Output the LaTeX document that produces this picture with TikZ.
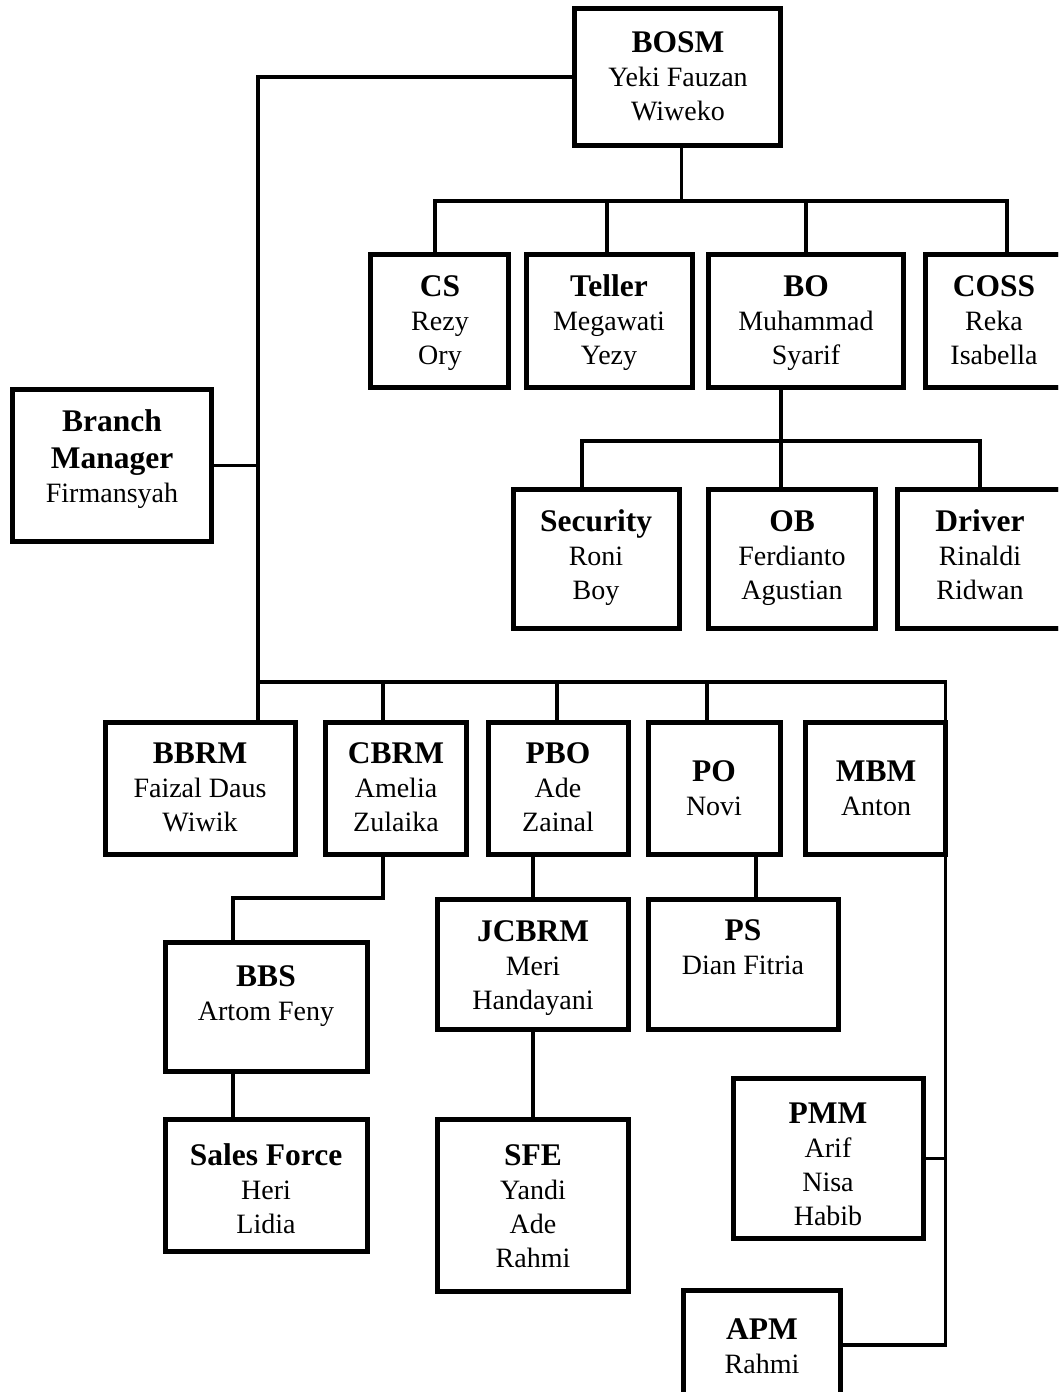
\documentclass[tikz,border=0pt]{standalone}
\usepackage{fontspec}
\setmainfont{Liberation Serif}
\newcommand\orgtitle[1]{{\fontsize{31.5}{34}\selectfont\bfseries #1}}
\begin{document}
\begin{tikzpicture}[x=1pt,y=-1pt,
  orgbox/.style={draw, fill=white, line width=5pt, inner sep=0pt, outer sep=0pt},
  txt/.style={align=center, font=\fontsize{28}{34}\selectfont, inner sep=0pt, yshift=-3pt},
  conn/.style={line width=3.5pt}]
\clip (0,0) rectangle (1058,1392);
\fill[white] (0,0) rectangle (1058,1392);

% boxes (placed first to get anchors)
\path
  node[orgbox, minimum width=206, minimum height=137] (bosm) at (677.5,77) {}
  node[orgbox, minimum width=138, minimum height=133] (cs) at (439.5,321) {}
  node[orgbox, minimum width=166, minimum height=133] (teller) at (609.5,321) {}
  node[orgbox, minimum width=195, minimum height=133] (bo) at (806,321) {}
  node[orgbox, minimum width=147, minimum height=133] (coss) at (999,321) {}
  node[orgbox, minimum width=199, minimum height=152] (bm) at (112,465.5) {}
  node[orgbox, minimum width=166, minimum height=139] (security) at (596.5,559) {}
  node[orgbox, minimum width=167, minimum height=139] (ob) at (792,559) {}
  node[orgbox, minimum width=175, minimum height=139] (driver) at (985,559) {}
  node[orgbox, minimum width=190, minimum height=132] (bbrm) at (200.5,788.5) {}
  node[orgbox, minimum width=141, minimum height=132] (cbrm) at (396,788.5) {}
  node[orgbox, minimum width=140, minimum height=132] (pbo) at (558.5,788.5) {}
  node[orgbox, minimum width=132, minimum height=132] (po) at (714.5,788.5) {}
  node[orgbox, minimum width=140, minimum height=132] (mbm) at (875.5,788.5) {}
  node[orgbox, minimum width=202, minimum height=129] (bbs) at (266.5,1007) {}
  node[orgbox, minimum width=191, minimum height=130] (jcbrm) at (533,964.5) {}
  node[orgbox, minimum width=190, minimum height=130] (ps) at (743.5,964.5) {}
  node[orgbox, minimum width=202, minimum height=132] (sf) at (266.5,1185.5) {}
  node[orgbox, minimum width=191, minimum height=172] (sfe) at (533,1205.5) {}
  node[orgbox, minimum width=190, minimum height=160] (pmm) at (828.5,1158.5) {}
  node[orgbox, minimum width=157, minimum height=127] (apm) at (762,1354) {};

% connection points
\coordinate (bbrmin) at ([xshift=57.5]bbrm.north);
\path (bbrmin) ++(0,-40.5) coordinate (trunk);
\coordinate (rt) at (mbm.east |- trunk);
\coordinate (apmin) at ([yshift=9pt]apm.east);
\coordinate (cbrmin) at ([xshift=-13]cbrm.north);
\coordinate (pboin) at ([xshift=-1.5]pbo.north);
\coordinate (poin) at ([xshift=-7.5]po.north);
\coordinate (bosmout) at ([xshift=4]bosm.south);
\path (bosmout) ++(0,55.5) coordinate (tb);
\coordinate (csin) at ([xshift=-4.5]cs.north);
\coordinate (tellerin) at ([xshift=-2.5]teller.north);
\coordinate (cossin) at ([xshift=8]coss.north);
\coordinate (boout) at ([xshift=-25]bo.south);
\path (boout) ++(0,53.5) coordinate (bb);
\coordinate (secin) at ([xshift=-14.5]security.north);
\coordinate (obin) at ([xshift=-11]ob.north);
\coordinate (drvin) at ([xshift=-5]driver.north);
\coordinate (cbrmout) at ([xshift=-13]cbrm.south);
\coordinate (bbsin) at ([xshift=-33.5]bbs.north);
\coordinate (bbsout) at ([xshift=-33.5]bbs.south);
\coordinate (sfin) at ([xshift=-33.5]sf.north);
\coordinate (psin) at ([xshift=12.5]ps.north);

% connectors
\draw[conn] (bosm.west) -| (trunk) -- (bbrmin);
\draw[conn] (bm.east) -- (bm.east -| trunk);
\draw[conn] (trunk) -- (rt) |- (apmin);
\draw[conn] (pmm.east) -- (pmm.east -| rt);
\draw[conn] (cbrmin) -- (cbrmin |- trunk);
\draw[conn] (pboin) -- (pboin |- trunk);
\draw[conn] (poin) -- (poin |- trunk);
\draw[conn] (bosmout) -- (tb);
\draw[conn] (csin) |- (cossin |- tb) -- (cossin);
\draw[conn] (tellerin) -- (tellerin |- tb);
\draw[conn] (bo.north) -- (bo.north |- tb);
\draw[conn] (boout) -- (obin);
\draw[conn] (secin) |- (drvin |- bb) -- (drvin);
\draw[conn] (cbrmout) -- ++(0,43.5) -| (bbsin);
\draw[conn] (bbsout) -- (sfin);
\draw[conn] (jcbrm.north) -- (jcbrm.north |- pbo.south);
\draw[conn] (psin) -- (psin |- po.south);
\draw[conn] (jcbrm.south) -- (sfe.north);

% boxes drawn on top
\foreach \b in {bosm,cs,teller,bo,coss,bm,security,ob,driver,bbrm,cbrm,pbo,po,mbm,bbs,jcbrm,ps,sf,sfe,pmm,apm}{
  \draw[line width=5pt, fill=white] (\b.north west) rectangle (\b.south east);
}
\draw[conn] (rt) -- (rt |- mbm.south);

% texts
\node[txt] (bosmt) at (678,76.5) {\strut\orgtitle{BOSM}\\Yeki Fauzan\\Wiweko\strut};
\node[txt] (cst) at (440,321) {\strut\orgtitle{CS}\\Rezy\\Ory\strut};
\node[txt] (tellert) at (609,321) {\strut\orgtitle{Teller}\\Megawati\\Yezy\strut};
\node[txt] (bot) at (806,321) {\strut\orgtitle{BO}\\Muhammad\\Syarif\strut};
\node[txt] (cosst) at (994,321) {\strut\orgtitle{COSS}\\Reka\\Isabella\strut};
\node[txt] (bmt) at (112,457) {\strut\orgtitle{Branch}\\[3pt]\orgtitle{Manager}\\Firmansyah\strut};
\node[txt] (securityt) at (596,556) {\strut\orgtitle{Security}\\Roni\\Boy\strut};
\node[txt] (obt) at (792,556) {\strut\orgtitle{OB}\\Ferdianto\\Agustian\strut};
\node[txt] (drivert) at (980,556) {\strut\orgtitle{Driver}\\Rinaldi\\Ridwan\strut};
\node[txt] (bbrmt) at (200,788) {\strut\orgtitle{BBRM}\\Faizal Daus\\Wiwik\strut};
\node[txt] (cbrmt) at (396,788) {\strut\orgtitle{CBRM}\\Amelia\\Zulaika\strut};
\node[txt] (pbot) at (558,788) {\strut\orgtitle{PBO}\\Ade\\Zainal\strut};
\node[txt] (pot) at (714,789) {\strut\orgtitle{PO}\\Novi\strut};
\node[txt] (mbmt) at (876,789) {\strut\orgtitle{MBM}\\Anton\strut};
\node[txt] (bbst) at (266,994) {\strut\orgtitle{BBS}\\Artom Feny\strut};
\node[txt] (jcbrmt) at (533,966) {\strut\orgtitle{JCBRM}\\Meri\\Handayani\strut};
\node[txt] (pst) at (743,948) {\strut\orgtitle{PS}\\Dian Fitria\strut};
\node[txt] (sft) at (266,1190) {\strut\orgtitle{Sales Force}\\Heri\\Lidia\strut};
\node[txt] (sfet) at (533,1207) {\strut\orgtitle{SFE}\\Yandi\\Ade\\Rahmi\strut};
\node[txt] (pmmt) at (828,1165) {\strut\orgtitle{PMM}\\Arif\\Nisa\\Habib\strut};
\node[txt] (apmt) at (762,1347) {\strut\orgtitle{APM}\\Rahmi\strut};
\end{tikzpicture}
\end{document}
